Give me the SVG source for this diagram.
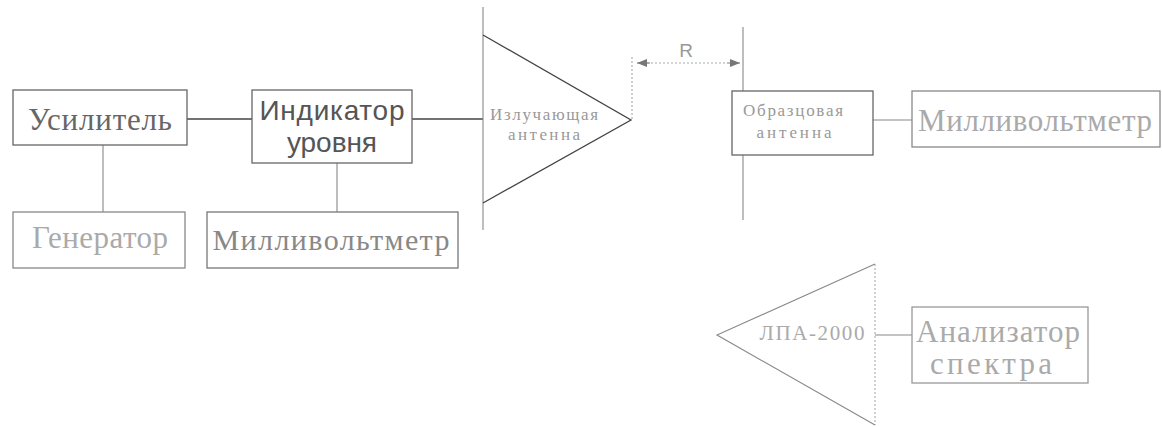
<svg xmlns="http://www.w3.org/2000/svg" width="1162" height="427" viewBox="0 0 1162 427">
<style>
.box{fill:#fff;stroke:#666;stroke-width:1.3}
.ln{fill:none;stroke:#444;stroke-width:1.3}
.lg{fill:none;stroke:#888;stroke-width:1.1}
.dt{fill:none;stroke:#aaa;stroke-width:1.1;stroke-dasharray:2,2}
.serif{font-family:"Liberation Serif","Times New Roman",serif}
.sans{font-family:"Liberation Sans",Arial,sans-serif}
</style>
<defs>
<marker id="ah" markerWidth="10" markerHeight="8" refX="10" refY="4" orient="auto" markerUnits="userSpaceOnUse">
<path d="M0,0 L10,4 L0,8 Z" fill="#777"/>
</marker>
</defs>
<rect width="1162" height="427" fill="#fff"/>
<g id="connectors">
<line class="ln" x1="187" y1="119" x2="252" y2="119"/>
<line class="ln" x1="412" y1="119" x2="483" y2="119"/>
<line class="lg" x1="103" y1="145" x2="103" y2="212"/>
<line class="lg" x1="337" y1="163" x2="337" y2="212"/>
<line class="lg" x1="873" y1="120" x2="912" y2="120"/>
<line class="lg" x1="875" y1="335" x2="912" y2="335"/>
<line class="dt" x1="632" y1="57" x2="632" y2="120"/>
<line class="dt" x1="647" y1="63" x2="727" y2="63"/>
<line class="lg" x1="650" y1="63" x2="637" y2="63" marker-end="url(#ah)"/>
<line class="lg" x1="727" y1="63" x2="740" y2="63" marker-end="url(#ah)"/>
<text class="sans" x="686" y="57" font-size="19" fill="#999" text-anchor="middle">R</text>
</g>
<g id="usilitel">
<rect class="box" x="13" y="90" width="174" height="55"/>
<text class="serif" x="100" y="130" font-size="31" fill="#666" text-anchor="middle" textLength="144" lengthAdjust="spacing">Усилитель</text>
</g>
<g id="indikator">
<rect class="box" x="252" y="90" width="160" height="73"/>
<text class="sans" x="332" y="120" font-size="28" fill="#555" text-anchor="middle" textLength="145" lengthAdjust="spacing">Индикатор</text>
<text class="sans" x="332" y="152" font-size="28" fill="#555" text-anchor="middle" textLength="90" lengthAdjust="spacing">уровня</text>
</g>
<g id="generator">
<rect class="box" x="13" y="212" width="172" height="56" style="stroke:#888"/>
<text class="serif" x="100" y="248" font-size="31" fill="#aaa" text-anchor="middle" textLength="136" lengthAdjust="spacing">Генератор</text>
</g>
<g id="millivoltmetr1">
<rect class="box" x="207" y="212" width="251" height="56" style="stroke:#777"/>
<text class="serif" x="331" y="250" font-size="30" fill="#888" text-anchor="middle" textLength="237" lengthAdjust="spacing">Милливольтметр</text>
</g>
<g id="izl-antenna">
<line class="lg" x1="483" y1="7" x2="483" y2="230"/>
<path class="ln" d="M483,35 L631,120 L483,203"/>
<text class="serif" x="544" y="120" font-size="17" fill="#999" text-anchor="middle" textLength="108" lengthAdjust="spacing">Излучающая</text>
<text class="serif" x="544" y="140" font-size="17" fill="#999" text-anchor="middle" textLength="72" lengthAdjust="spacing">антенна</text>
</g>
<g id="obr-antenna">
<line class="lg" x1="743" y1="27" x2="743" y2="220"/>
<rect class="box" x="732" y="91" width="141" height="64"/>
<text class="serif" x="793" y="116" font-size="17" fill="#999" text-anchor="middle" textLength="100" lengthAdjust="spacing">Образцовая</text>
<text class="serif" x="794" y="138" font-size="17" fill="#999" text-anchor="middle" textLength="75" lengthAdjust="spacing">антенна</text>
</g>
<g id="millivoltmetr2">
<rect class="box" x="912" y="91" width="248" height="56" style="stroke:#888"/>
<text class="serif" x="1035" y="131" font-size="31" fill="#aaa" text-anchor="middle" textLength="234" lengthAdjust="spacing">Милливольтметр</text>
</g>
<g id="lpa">
<line class="dt" x1="875" y1="264" x2="875" y2="425"/>
<path class="lg" d="M875,264 L717,335 L875,425"/>
<text class="serif" x="812" y="340" font-size="21" fill="#aaa" text-anchor="middle" textLength="105" lengthAdjust="spacing">ЛПА-2000</text>
</g>
<g id="analizator">
<rect class="box" x="912" y="307" width="176" height="76" style="stroke:#999"/>
<text class="serif" x="998" y="342" font-size="31" fill="#aaa" text-anchor="middle" textLength="164" lengthAdjust="spacing">Анализатор</text>
<text class="serif" x="991" y="374" font-size="31" fill="#aaa" text-anchor="middle" textLength="122" lengthAdjust="spacing">спектра</text>
</g>
</svg>
